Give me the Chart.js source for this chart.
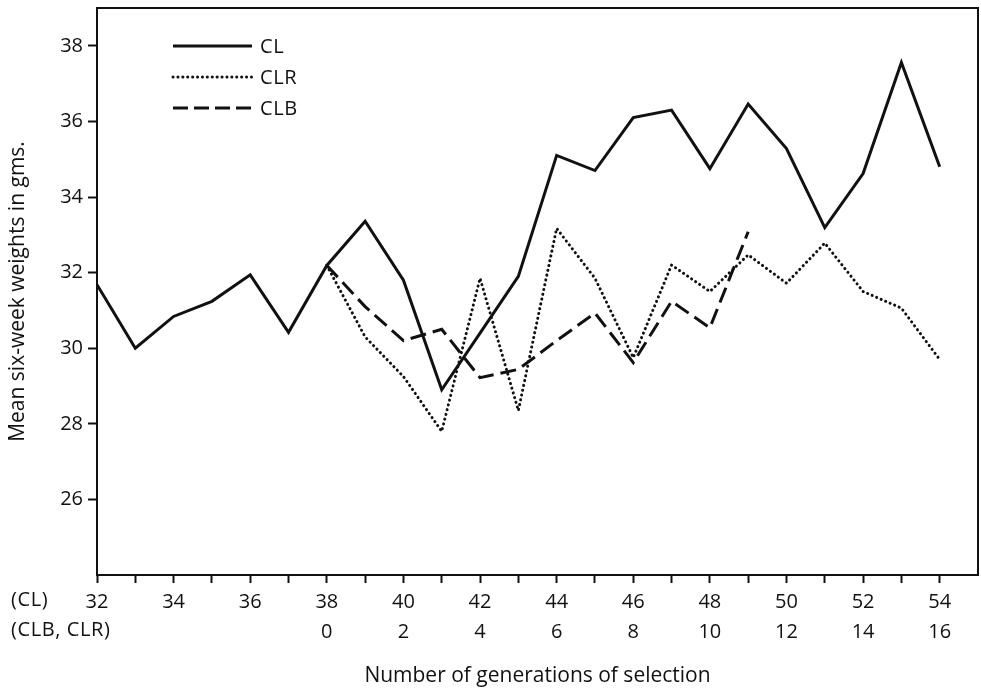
<!DOCTYPE html>
<html>
<head>
<meta charset="utf-8">
<script src="https://cdn.jsdelivr.net/npm/chart.js@4.4.1/dist/chart.umd.min.js"></script>
<style>
  html, body { margin: 0; padding: 0; background: #fff; }
  #wrap { width: 981px; height: 690px; position: relative; }
</style>
</head>
<body>
<div id="wrap"><canvas id="chart" width="981" height="690"></canvas></div>
<script>
// Generations for the CL line, and generations of selection for CLB / CLR (0 = CL generation 38)
const clGenerations = [32, 33, 34, 35, 36, 37, 38, 39, 40, 41, 42, 43, 44, 45, 46, 47, 48, 49, 50, 51, 52, 53, 54];
const selectionStart = 38;
const selGenerations = [0, 1, 2, 3, 4, 5, 6, 7, 8, 9, 10, 11, 12, 13, 14, 15, 16];

// Mean six-week weights (gms)
const clValues  = [31.68, 30.0, 30.84, 31.24, 31.94, 30.42, 32.19, 33.36, 31.8, 28.9, 30.4, 31.9,
                   35.1, 34.7, 36.1, 36.3, 34.75, 36.46, 35.28, 33.19, 34.62, 37.56, 34.8];
const clrValues = [32.19, 30.3, 29.25, 27.8, 31.85, 28.35, 33.17, 31.85, 29.75, 32.2, 31.5, 32.47,
                   31.72, 32.78, 31.5, 31.06, 29.7];
const clbValues = [32.19, 31.1, 30.2, 30.5, 29.22, 29.44, 30.2, 30.93, 29.62, 31.24, 30.54, 33.08];

// Tick labels
const yTicks = [26, 28, 30, 32, 34, 36, 38];
const clTickLabels  = ['32', '34', '36', '38', '40', '42', '44', '46', '48', '50', '52', '54'];
const selTickLabels = ['', '', '', '0', '2', '4', '6', '8', '10', '12', '14', '16'];

const FONT = '"Open Sans", Lato, sans-serif';
const FSIZE = 20;
const INK = '#111';

const series = [
    { label: 'CL',  gens: clGenerations, offset: 0, values: clValues, dash: [], width: 3, cap: 'butt' },
    { label: 'CLR', gens: selGenerations, offset: selectionStart, values: clrValues, dash: [0.1, 4.8], width: 3, cap: 'round' },
    { label: 'CLB', gens: selGenerations, offset: selectionStart, values: clbValues, dash: [16, 7], width: 3, cap: 'butt' }
];

// Box round the plot, row names under the x axis, and the legend
const decorPlugin = {
    id: 'decor',
    afterDraw(chart) {
        const ctx = chart.ctx;
        const a = chart.chartArea;
        const xs = chart.scales.x;
        ctx.save();
        ctx.strokeStyle = INK;
        ctx.lineWidth = 2;
        ctx.strokeRect(a.left, a.top, a.right - a.left, a.bottom - a.top);

        ctx.fillStyle = INK;
        ctx.font = FSIZE + 'px ' + FONT;
        ctx.letterSpacing = '0.6px';
        ctx.textAlign = 'left';
        ctx.textBaseline = 'middle';
        ctx.fillText('(CL)', 11, xs.top + 25);
        ctx.fillText('(CLB, CLR)', 11, xs.top + 55);

        // legend
        const lx0 = a.left + 76, lx1 = a.left + 155;
        series.forEach((s, i) => {
            const y = a.top + 38 + i * 31;
            ctx.beginPath();
            ctx.lineWidth = s.width;
            ctx.lineCap = s.cap;
            ctx.setLineDash(s.label === 'CLB' ? [15, 6] : s.dash);
            ctx.moveTo(lx0, y);
            ctx.lineTo(lx1, y);
            ctx.stroke();
            ctx.setLineDash([]);
            ctx.fillText(s.label, lx1 + 8, y + 1);
        });
        ctx.restore();
    }
};

new Chart(document.getElementById('chart'), {
    type: 'line',
    data: {
        datasets: series.map(s => ({
            label: s.label,
            data: s.gens.map((g, i) => ({ x: g + s.offset, y: s.values[i] })),
            borderColor: INK,
            borderWidth: s.width,
            borderDash: s.dash,
            borderCapStyle: s.cap,
            borderJoinStyle: 'miter',
            pointRadius: 0,
            tension: 0,
            fill: false
        }))
    },
    options: {
        responsive: false,
        animation: false,
        layout: { padding: { left: 0, right: 3, top: 8, bottom: 0 } },
        plugins: { legend: { display: false }, tooltip: { enabled: false } },
        scales: {
            x: {
                type: 'linear',
                min: 32,
                max: 55,
                border: { display: false },
                grid: { drawOnChartArea: false, drawTicks: true, tickLength: 8, tickColor: INK, tickWidth: 2 },
                afterBuildTicks(scale) {
                    scale.ticks = clGenerations.map(v => ({ value: v }));
                },
                afterFit(scale) { scale.height = 115; },
                ticks: {
                    autoSkip: false,
                    maxRotation: 0,
                    padding: 4,
                    color: INK,
                    font: { family: FONT, size: FSIZE, lineHeight: 1.5 },
                    callback(v) {
                        if (v % 2 !== 0) return '';
                        const i = (v - 32) / 2;
                        return [clTickLabels[i], selTickLabels[i]];
                    }
                },
                title: {
                    display: true,
                    text: 'Number of generations of selection',
                    color: INK,
                    font: { family: FONT, size: 21 },
                    padding: { top: 0, bottom: 1 }
                }
            },
            y: {
                min: 24,
                max: 39,
                border: { display: false },
                grid: { drawOnChartArea: false, drawTicks: true, tickLength: 9, tickColor: INK, tickWidth: 2 },
                afterBuildTicks(scale) {
                    scale.ticks = yTicks.map(v => ({ value: v }));
                },
                afterFit(scale) {
                    scale.width = 97;
                    scale.paddingTop = 0;
                    scale.paddingBottom = 0;
                },
                ticks: {
                    padding: 5,
                    color: INK,
                    font: { family: FONT, size: FSIZE }
                },
                title: {
                    display: true,
                    text: 'Mean six-week weights in gms.',
                    color: INK,
                    font: { family: FONT, size: 21 },
                    padding: { top: 5, bottom: 0 }
                }
            }
        }
    },
    plugins: [decorPlugin]
});
</script>
</body>
</html>
